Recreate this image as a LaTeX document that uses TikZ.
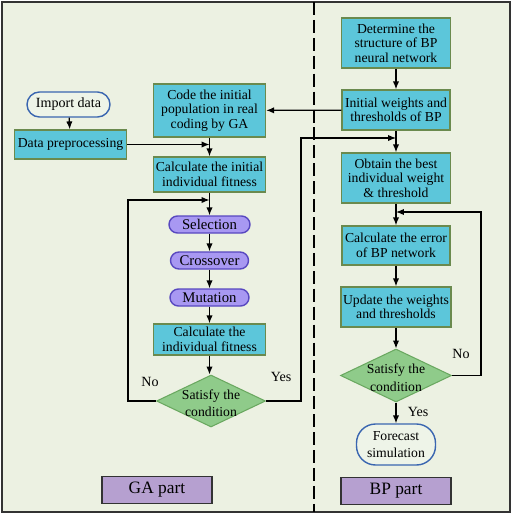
\documentclass[tikz,border=0pt]{standalone}
\usepackage{fontspec}
\setmainfont{Liberation Serif}
\newfontfamily\figserif{Liberation Serif}
\usetikzlibrary{positioning,shapes.geometric,arrows.meta}
\definecolor{bgpaper}{HTML}{ECF1E2}
\definecolor{boxcyan}{HTML}{5CC6DA}
\definecolor{boxedge}{HTML}{6A8A4E}
\definecolor{opfill}{HTML}{A898F2}
\definecolor{opedge}{HTML}{5848C0}
\definecolor{condfill}{HTML}{8FCB8A}
\definecolor{condedge}{HTML}{6AA860}
\definecolor{partfill}{HTML}{B6A0D0}
\definecolor{termedge}{HTML}{3A66B0}
\definecolor{termfill}{HTML}{EEF4E8}
\newcommand{\condtext}[2]{\smash{\makebox[0pt]{\raisebox{-4pt}{\begin{tabular}{@{}c@{}}#1\\#2\end{tabular}}}}}
\tikzset{
  proc/.style={draw=boxedge,fill=boxcyan,line width=0.8pt,align=center,inner sep=1pt,
    minimum width=2.24cm,font=\figserif\fontsize{7.8}{8.3}\selectfont},
  oper/.style={draw=opedge,fill=opfill,line width=0.8pt,rounded corners=0.17cm,
    minimum height=0.34cm,inner sep=0pt,font=\figserif\fontsize{8.4}{9}\selectfont},
  cond/.style={diamond,draw=condedge,fill=condfill,line width=0.6pt,
    inner sep=0pt,minimum width=2.18cm,minimum height=1.04cm,font=\figserif\fontsize{7.8}{9.8}\selectfont},
  term/.style={draw=termedge,fill=termfill,line width=0.8pt,align=center,inner sep=0pt},
  part/.style={draw=black!80,fill=partfill,line width=0.8pt,minimum width=2.2cm,
    minimum height=0.48cm,font=\figserif\fontsize{9.9}{11}\selectfont},
  flow/.style={line width=0.7pt,-{Latex[length=4.5pt,width=3.6pt]}},
  tag/.style={font=\figserif\fontsize{8}{9}\selectfont},
}
\begin{document}
\begin{tikzpicture}[x=0.02cm,y=-0.02cm]
	\useasboundingbox (0,0) rectangle (512,514);
	\fill[bgpaper] (2,2) rectangle (510,512);
	\draw[line width=0.85pt,black!80] (2,2) rectangle (510,512);
	\draw[line width=1.1pt,dash pattern=on 7.4pt off 2.8pt] (314,2)--(314,512);
	% GA part
	\node (imp) at (68.5,104.5) [term,rounded corners=0.25cm,minimum width=1.66cm,minimum height=0.5cm,font=\figserif\fontsize{8}{9}\selectfont] {Import data};
	\node (pre) at (70.5,144.5) [proc,minimum height=0.58cm] {Data preprocessing};
	\node (code) at (209.5,110.5) [proc,minimum height=1.06cm] {Code the initial\\population in real\\coding by GA};
	\node (calc0) at (209.5,174.5) [proc,minimum height=0.7cm] {Calculate the initial\\individual fitness};
	\node (sel) at (209.5,224.5) [oper,minimum width=1.62cm] {Selection};
	\node (cro) at (209.5,260.5) [oper,minimum width=1.56cm] {Crossover};
	\node (mut) at (209.5,297.5) [oper,minimum width=1.58cm] {Mutation};
	\node (calc) at (209.5,339.5) [proc,minimum height=0.62cm] {Calculate the\\individual fitness};
	\node (condga) at (211,401) [cond] {\condtext{Satisfy the}{condition}};
	\node (gapart) at (157,490) [part] {GA part};
	\coordinate (gajoin) at (209.5,200);
	% BP part
	\node (det) at (396,43) [proc,minimum width=2.18cm,minimum height=1cm] {Determine the\\structure of BP\\neural network};
	\node (init) at (396,110) [proc,minimum width=2.16cm,minimum height=0.8cm] {Initial weights and\\thresholds of BP};
	\node (best) at (396,178) [proc,minimum width=2.18cm,minimum height=1cm] {Obtain the best\\individual weight\\\& threshold};
	\node (err) at (396,245.5) [proc,minimum width=2.16cm,minimum height=0.78cm] {Calculate the error\\of BP network};
	\node (upd) at (396,307) [proc,minimum width=2.2cm,minimum height=0.8cm] {Update the weights\\and thresholds};
	\node (condbp) at (396,375.5) [cond,minimum width=2.22cm,minimum height=1.06cm] {\condtext{Satisfy the}{condition}};
	\node (fore) at (396,444.5) [term,rounded corners=0.38cm,minimum width=1.58cm,minimum height=0.82cm,font=\figserif\fontsize{7.8}{9.8}\selectfont] {Forecast\\simulation};
	\node (bppart) at (396,491) [part] {BP part};
	\coordinate (bpjoin) at (396,138);
	\coordinate (bpback) at (396,212);
	% connectors
	\draw[flow] (imp)--(pre);
	\draw[flow] (pre.east)--(pre.east -| code.south);
	\draw[flow] (code)--(calc0);
	\draw[flow] (calc0)--(sel);
	\draw[flow] (sel)--(cro);
	\draw[flow] (cro)--(mut);
	\draw[flow] (mut)--(calc);
	\draw[flow] (calc)--(calc.south |- condga.north);
	\draw[flow] (condga.west)--++(-28,0)|-(gajoin);
	\node (gano) at (150,382) [tag] {No};
	\draw[flow] (condga.east)--++(35,0)|-(bpjoin);
	\node (gayes) at (281,377) [tag] {Yes};
	\draw[flow] (det)--(init);
	\draw[flow] (init)--(code);
	\draw[flow] (init)--(best);
	\draw[flow] (best)--(err);
	\draw[flow] (err)--(upd);
	\draw[flow] (upd)--(condbp);
	\draw[flow] (condbp)--(fore);
	\node (bpyes) at (418,412) [tag] {Yes};
	\draw[flow] (condbp.east)--++(29,0)|-(bpback);
	\node (bpno) at (461,354) [tag] {No};
\end{tikzpicture}
\end{document}
